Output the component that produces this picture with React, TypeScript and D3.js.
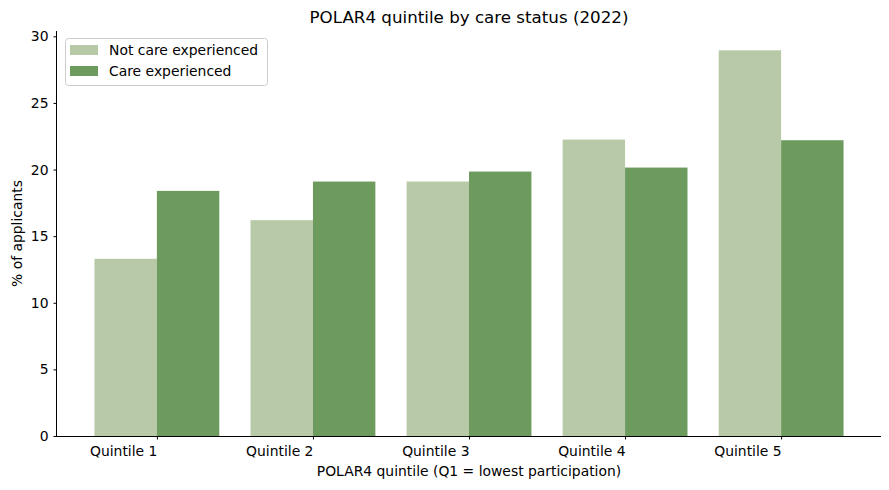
import React, { useEffect, useRef } from 'react';
import * as d3 from 'd3';

const quintiles = ['Quintile 1', 'Quintile 2', 'Quintile 3', 'Quintile 4', 'Quintile 5'];
const notCare = [13.3, 16.2, 19.1, 22.25, 28.95];
const care = [18.4, 19.1, 19.85, 20.15, 22.2];
const yTicks = [0, 5, 10, 15, 20, 25, 30];
const seriesNames = ['Not care experienced', 'Care experienced'];
const colors = ['#b8c9a8', '#6d9b5e'];

const App = () => {
    const ref = useRef<SVGSVGElement>(null);

    useEffect(() => {
        const svg = d3.select(ref.current);
        svg.selectAll('*').remove();
        const font = 'DejaVu Sans, sans-serif';
        const fs = 13.9;

        const left = 57, right = 881, top = 31, bottom = 436;
        const x = d3.scaleLinear().domain([-0.64, 4.64]).range([left, right]);
        const y = d3.scaleLinear().domain([0, 30.4]).range([bottom, top]);
        const bw = 0.4;

        [notCare, care].forEach((vals, s) => {
            svg.append('g').selectAll('rect')
                .data(vals)
                .enter()
                .append('rect')
                .attr('x', (d, i) => x(i - bw + s * bw))
                .attr('width', x(bw) - x(0))
                .attr('y', d => y(d))
                .attr('height', d => y(0) - y(d))
                .attr('fill', colors[s]);
        });

        const xAxis = svg.append('g')
            .attr('transform', `translate(0,${bottom})`)
            .call(d3.axisBottom(x).tickValues([0, 1, 2, 3, 4]).tickFormat((d: any) => quintiles[d]).tickSize(3.5).tickPadding(7));
        xAxis.select('.domain').attr('stroke', '#000').attr('stroke-width', 1);
        xAxis.selectAll('text').attr('text-anchor', 'end').attr('font-family', font).attr('font-size', fs).attr('fill', '#000');
        xAxis.select('.domain').attr('d', `M${left},0.5H${right}`);

        const yAxis = svg.append('g')
            .attr('transform', `translate(${left},0)`)
            .call(d3.axisLeft(y).tickValues(yTicks).tickSize(3.5).tickPadding(5));
        yAxis.select('.domain').attr('d', `M-0.5,${top}V${bottom}`).attr('stroke', '#000');
        yAxis.selectAll('text').attr('font-family', font).attr('font-size', fs).attr('fill', '#000');

        svg.append('text')
            .attr('x', (left + right) / 2).attr('y', 23)
            .attr('text-anchor', 'middle')
            .attr('font-family', font).attr('font-size', 16.7)
            .text('POLAR4 quintile by care status (2022)');

        svg.append('text')
            .attr('x', (left + right) / 2).attr('y', 476)
            .attr('text-anchor', 'middle')
            .attr('font-family', font).attr('font-size', fs)
            .text('POLAR4 quintile (Q1 = lowest participation)');

        svg.append('text')
            .attr('transform', `translate(22,${(top + bottom) / 2}) rotate(-90)`)
            .attr('text-anchor', 'middle')
            .attr('font-family', font).attr('font-size', fs)
            .text('% of applicants');

        const legend = svg.append('g');
        legend.append('rect')
            .attr('x', 65.5).attr('y', 38.5).attr('width', 202).attr('height', 47)
            .attr('rx', 3).attr('fill', '#fff').attr('fill-opacity', 0.8)
            .attr('stroke', '#ccc');
        seriesNames.forEach((name, i) => {
            legend.append('rect')
                .attr('x', 70).attr('y', 45 + i * 21).attr('width', 28).attr('height', 10)
                .attr('fill', colors[i]);
            legend.append('text')
                .attr('x', 109).attr('y', 55 + i * 21)
                .attr('font-family', font).attr('font-size', fs)
                .text(name);
        });
    }, []);

    return <svg ref={ref} width={889} height={490} style={{ position: 'absolute', left: 0, top: 0 }} />;
};

export default App;
